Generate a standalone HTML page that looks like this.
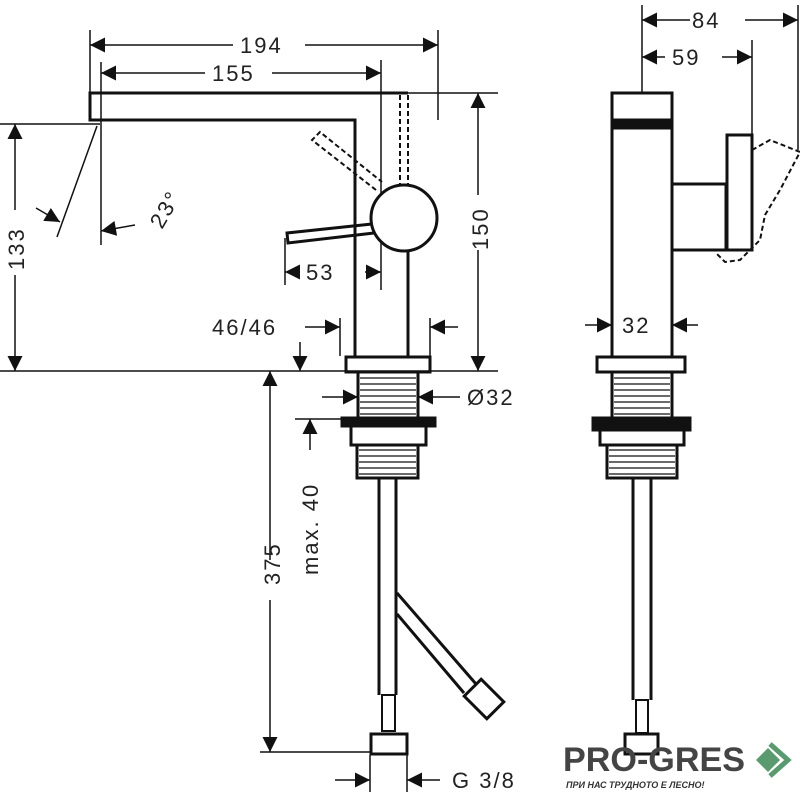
<!DOCTYPE html>
<html><head><meta charset="utf-8"><style>
html,body{margin:0;padding:0;background:#fff}
svg{display:block}
text{font-family:"Liberation Sans",sans-serif;fill:#222}
</style></head><body>
<svg width="800" height="800" viewBox="0 0 800 800" xmlns="http://www.w3.org/2000/svg">
<defs>
<marker id="a" viewBox="0 0 10 10" refX="10" refY="5" markerWidth="18" markerHeight="15" markerUnits="userSpaceOnUse" orient="auto-start-reverse"><path d="M0,0L10,5L0,10z" fill="#111"/></marker>
</defs>
<g stroke="#111" fill="none" stroke-width="1.5">
<line x1="90" y1="30" x2="90" y2="92"/>
<line x1="438" y1="30" x2="438" y2="120"/>
<line x1="101" y1="62" x2="101" y2="245"/>
<line x1="381" y1="60" x2="381" y2="290"/>
<line x1="408" y1="93" x2="498" y2="93"/>
<line x1="0" y1="124" x2="100" y2="124"/>
<line x1="0" y1="371" x2="498" y2="371"/>
<line x1="285" y1="238" x2="285" y2="285"/>
<line x1="340" y1="318" x2="340" y2="356"/>
<line x1="430" y1="318" x2="430" y2="356"/>
<line x1="295" y1="419" x2="345" y2="419"/>
<line x1="260" y1="752" x2="370" y2="752"/>
<line x1="370" y1="755" x2="370" y2="792"/>
<line x1="407" y1="755" x2="407" y2="792"/>
<line x1="90" y1="45" x2="233" y2="45" marker-start="url(#a)"/>
<line x1="305" y1="45" x2="438" y2="45" marker-end="url(#a)"/>
<line x1="101" y1="73" x2="205" y2="73" marker-start="url(#a)"/>
<line x1="272" y1="73" x2="381" y2="73" marker-end="url(#a)"/>
<line x1="478" y1="93" x2="478" y2="195" marker-start="url(#a)"/>
<line x1="478" y1="250" x2="478" y2="371" marker-end="url(#a)"/>
<line x1="15" y1="124" x2="15" y2="210" marker-start="url(#a)"/>
<line x1="15" y1="275" x2="15" y2="371" marker-end="url(#a)"/>
<line x1="97" y1="126" x2="57" y2="237"/>
<line x1="36" y1="208" x2="60" y2="222" marker-end="url(#a)"/>
<line x1="135" y1="225" x2="101" y2="231" marker-end="url(#a)"/>
<line x1="300" y1="272" x2="285" y2="272" marker-end="url(#a)"/>
<line x1="365" y1="272" x2="381" y2="272" marker-end="url(#a)"/>
<line x1="305" y1="327" x2="340" y2="327" marker-end="url(#a)"/>
<line x1="458" y1="327" x2="430" y2="327" marker-end="url(#a)"/>
<line x1="300" y1="342" x2="300" y2="371" marker-end="url(#a)"/>
<line x1="270" y1="560" x2="270" y2="371" marker-end="url(#a)"/>
<line x1="270" y1="600" x2="270" y2="752" marker-end="url(#a)"/>
<line x1="310" y1="450" x2="310" y2="419" marker-end="url(#a)"/>
<line x1="322" y1="397" x2="358" y2="397" marker-end="url(#a)"/>
<line x1="460" y1="397" x2="418" y2="397" marker-end="url(#a)"/>
<line x1="335" y1="780" x2="370" y2="780" marker-end="url(#a)"/>
<line x1="440" y1="780" x2="407" y2="780" marker-end="url(#a)"/>
<line x1="642" y1="5" x2="642" y2="93"/>
<line x1="752" y1="40" x2="752" y2="135"/>
<line x1="798" y1="5" x2="798" y2="150"/>
<line x1="642" y1="20" x2="690" y2="20" marker-start="url(#a)"/>
<line x1="745" y1="20" x2="798" y2="20" marker-end="url(#a)"/>
<line x1="642" y1="57" x2="665" y2="57" marker-start="url(#a)"/>
<line x1="722" y1="57" x2="752" y2="57" marker-end="url(#a)"/>
<line x1="585" y1="325" x2="612" y2="325" marker-end="url(#a)"/>
<line x1="698" y1="325" x2="672" y2="325" marker-end="url(#a)"/>
</g>
<g stroke="#111" fill="none" stroke-width="3">
<path d="M408,93 L90,93 L90,120 L355,120 L355,357"/>
<path d="M408,248 L408,357"/>
<circle cx="404" cy="218" r="33" fill="#fff"/>
<path d="M372,224 L287,233 L288,243 L374,233"/>
<rect x="346" y="357" width="84" height="15"/>
<rect x="358" y="372" width="60" height="46"/>
<rect x="342" y="418" width="93" height="8" fill="#111"/>
<rect x="351" y="426" width="75" height="19"/>
<rect x="357" y="445" width="61" height="33"/>
<path d="M379,478 L379,695 M396,478 L396,695"/>
<rect x="382" y="695" width="13" height="36" stroke-width="2"/>
<rect x="371" y="734" width="36" height="20"/>
<path d="M397,593 L476,684 M397,614 L464,693" />
<rect x="472" y="683" width="24" height="32" transform="rotate(-45 484 699)"/>
<rect x="612" y="93" width="60" height="264"/>
<rect x="612" y="120" width="60" height="8" fill="#111"/>
<rect x="672" y="184" width="54" height="66"/>
<rect x="727" y="135" width="25" height="115"/>
<rect x="597" y="357" width="88" height="15"/>
<rect x="612" y="372" width="60" height="46"/>
<rect x="593" y="418" width="97" height="12" fill="#111"/>
<rect x="600" y="430" width="84" height="15"/>
<rect x="607" y="445" width="70" height="33"/>
<path d="M633,478 L633,700 M651,478 L651,700"/>
<rect x="636" y="700" width="12" height="33" stroke-width="2"/>
<rect x="625" y="734" width="33" height="20"/>
</g>
<g stroke="#111" fill="none" stroke-width="2" stroke-dasharray="5,3">
<path d="M400,95 L400,185 M408,95 L408,185"/>
<path d="M376,190 L312,140 L320,132 L382,182"/>
<path d="M752,150 L770,140 L800,152 L780,190 L765,215 L760,240 L740,260 L725,262 L715,252"/>
</g>
<g stroke="#111" stroke-width="1.3">
<path d="M360,378h56M360,384h56M360,390h56M360,396h56M360,402h56M360,408h56M360,414h56"/>
<path d="M359,450h57M359,456h57M359,462h57M359,468h57M359,474h57"/>
<path d="M614,378h56M614,384h56M614,390h56M614,396h56M614,402h56M614,408h56M614,414h56"/>
<path d="M609,450h66M609,456h66M609,462h66M609,468h66M609,474h66"/>
</g>
<g font-size="22" letter-spacing="2">
<text x="240" y="53">194</text>
<text x="212" y="81">155</text>
<text x="306" y="280">53</text>
<text x="212" y="335">46/46</text>
<text x="467" y="405">Ø32</text>
<text x="452" y="788">G 3/8</text>
<text x="692" y="28">84</text>
<text x="672" y="65">59</text>
<text x="622" y="333">32</text>
<text transform="translate(162,230) rotate(-60)">23°</text>
<text transform="translate(24,270) rotate(-90)">133</text>
<text transform="translate(488,250) rotate(-90)">150</text>
<text transform="translate(280,585) rotate(-90)">375</text>
<text transform="translate(318,575) rotate(-90)">max. 40</text>
</g>
<text x="563" y="771" font-size="34" font-weight="bold" style="fill:#444" textLength="182" lengthAdjust="spacingAndGlyphs">PRO-GRES</text>
<text x="566" y="788" font-size="9" font-weight="bold" font-style="italic" style="fill:#333">ПРИ НАС ТРУДНОТО Е ЛЕСНО!</text>
<path d="M756,760 L768,748 L780,760 L768,772z" fill="#5a9a6e"/>
<path d="M770,744 L788,760 L770,776" fill="none" stroke="#5a9a6e" stroke-width="5"/>
</svg>
</body></html>
